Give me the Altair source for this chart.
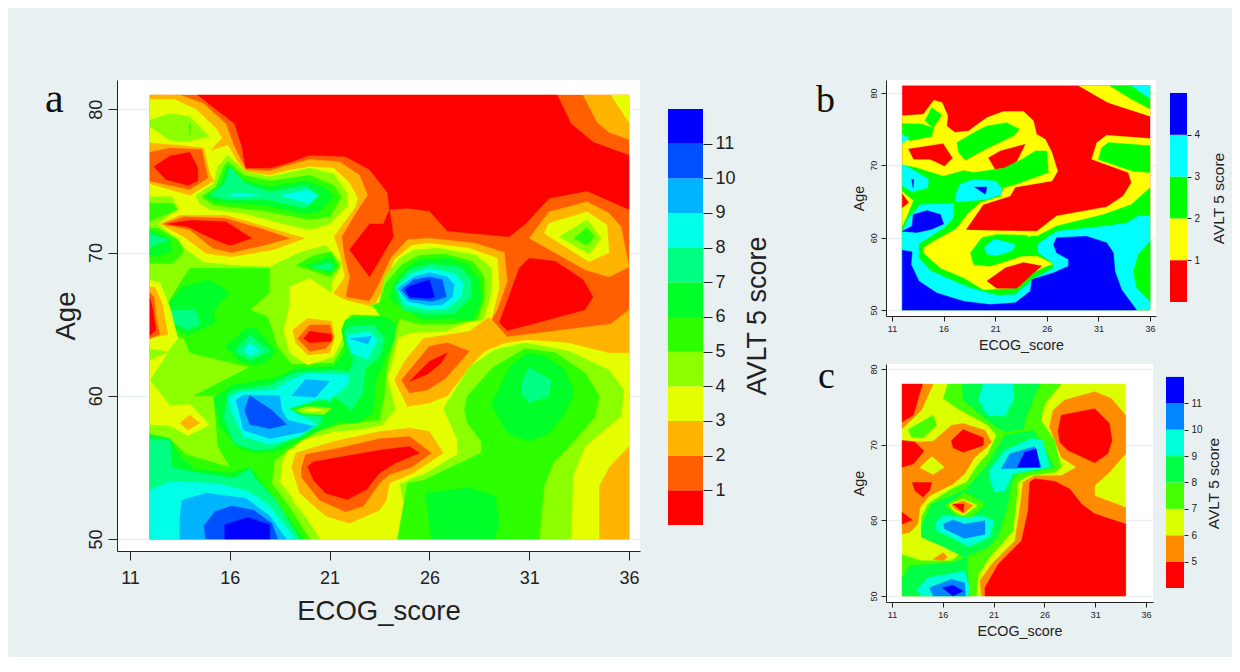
import altair as alt
import pandas as pd

BG = "#e9f0f2"
INK = "#222222"
A_COLORS = ["#ff0000","#ff5f00","#ffb400","#e6ff00","#8cff00","#2dff00","#00ff28","#00ff82","#00ffe6","#00b4ff","#0050ff","#0000ff"]
B_COLORS = ["#ff0000","#ffff00","#00ff00","#00ffff","#0000ff"]
C_COLORS = ["#ff0000","#ff8c00","#dcff00","#46ff00","#00ff46","#00ffd8","#0087ff","#0000ff"]
X_TICKS = [11,16,21,26,31,36]
Y_TICKS = [50,60,70,80]

# contour regions, painted in order: (band number, [(ECOG_score, Age), ...])
A_POLYS = [
(2,[(12,50),(36,50),(36,81),(12,81)]),
(1,[(14.4,81),(15.3,80),(16.25,79),(16.6,77.4),(16.8,75.9),(18,75.9),(18.8,76.2),(20,76.8),(21.8,76.7),(23,75.8),(23.9,74.2),(24,73),(24.9,73.1),(26,72.9),(26.9,71.5),(30,71.1),(30.8,72),(32,73.8),(33.9,74.3),(36,73),(36,76.8),(34.2,77.7),(33.1,79),(32.4,81)]),
(3,[(33.7,81),(34.4,79.1),(35,78.4),(36,77.9),(36,81)]),
(4,[(35.1,81),(36,79.1),(36,81)]),
(1,[(24,73),(24.2,71.1),(23,68.3),(22,70.2),(23,72),(23.7,72)]),
(3,[(12,81),(13.5,81),(14.7,80.4),(15.8,79),(16.2,77.5),(16.8,75.8),(18,75.7),(18.8,76.05),(20,76.5),(21.5,76.35),(22.5,75.4),(22.9,74),(22.3,72.75),(21.6,71.1),(21.75,69.7),(22,68.3),(21.8,66.9),(23,66.6),(23.4,67.6),(24.1,69.7),(24.9,70.9),(26,71),(28.3,70.65),(29.75,70),(29.9,68),(29.4,66),(29,65.05),(29.9,64.1),(35.1,65),(36,66),(36,50),(12,50)]),
(3,[(31,71),(32,72.85),(33.9,73.55),(35,72.75),(35.6,71.8),(36,69),(35,68.3),(33.8,68.8)]),
(4,[(31.75,71.35),(32,72.05),(33.9,72.85),(34.9,71.9),(35,70),(34,69.35)]),
(5,[(32.5,71.1),(33.9,72.3),(34.6,71),(34,69.9)]),
(6,[(33.25,71),(33.9,71.75),(34.25,71.1),(33.9,70.5)]),
(1,[(31,69.6),(32.3,69.4),(33.7,68.1),(34.2,66.9),(33.8,66),(29.9,64.55),(29.5,65.1),(30.5,68.9)]),
(4,[(12,80.7),(13.2,80.7),(14.3,80),(15.3,78.7),(15.6,78),(15,77.1),(15.9,77.5),(16.4,76.3),(16.8,75.65),(18,75.4),(19,75.75),(20,76),(21.2,75.9),(22,74.85),(22.4,73.8),(22.3,73.2),(21.2,71.1),(21.5,69.95),(21.75,68.3),(21.1,67),(22,66.6),(23.2,66.2),(23.7,67.4),(24.25,69.5),(25.1,70.5),(26,70.65),(28,70.3),(29.4,69.6),(29.5,67.6),(29.1,65.3),(29.9,64),(35,63.5),(36,63.5),(36,56.5),(35,55),(34.5,53.7),(34.5,50),(12,50)]),
(3,[(29,65.5),(28,64.5),(25.7,64),(24.8,62.5),(24.25,61.1),(24.9,59.25),(26,59.5),(26.9,60),(28,62),(28.75,63.1),(29.8,63.7),(31.3,64),(33,63.7),(35,63),(36,63),(36,66),(35.1,65),(29.9,64.1)]),
(2,[(24.6,61.1),(26,63.45),(26.9,63.7),(28,63.1),(26.8,61.2),(25.9,60.4),(25,60.2)]),
(1,[(25,61),(26,62.4),(26.9,63),(26.6,62.3),(25.9,61.5)]),
(5,[(12,73.9),(13.1,73.9),(13.4,73.1),(12.4,72),(13.4,70.9),(13.7,70.3),(14.7,69.3),(16.2,69.1),(18,69),(19.5,70),(20.8,70.5),(21.6,69.25),(21.1,67.85),(21.1,67),(22,66),(23.5,66.5),(23.75,68.3),(24.5,69.6),(25.25,70.2),(26.5,70.3),(28.3,69.85),(29.1,68.9),(29.1,67.2),(28.7,65.3),(27.8,65.1),(26.8,64.5),(25,64.4),(24.4,64),(24.25,63),(23.9,61.3),(24.3,59),(23.5,57.75),(21.2,57.5),(19.5,56.9),(18.6,55),(18.5,54),(19.5,52.2),(20.5,50),(12,50)]),
(5,[(26.7,59.1),(28,62),(29.25,63.2),(30.8,63.7),(33,63.1),(35,61.8),(35.75,60.4),(35.6,58.55),(33.8,56.5),(33.2,54.4),(33.1,50),(24.4,50),(24.8,52),(24.5,54),(25.7,54.5),(27.4,55.9),(27.4,56.95)]),
(6,[(28.6,56),(28.6,56.8),(27.9,58.1),(27.75,59),(27.9,60),(29.2,62),(30.8,63.3),(32.3,63),(33.8,61.6),(34.5,60),(34.3,58.55),(33.3,56.9),(32.2,55.3),(31.75,53.7),(31.5,50),(24.4,50),(24.9,53.9),(25.7,54.1)]),
(7,[(29.1,59.4),(29.9,57.4),(31,56.8),(32,57.4),(32.8,58.8),(33.25,60.2),(32.8,61.8),(31.8,62.75),(30.9,63),(30,62)]),
(8,[(30.65,61.1),(31,62),(32.1,61.1),(32,60),(31,59.5),(30.6,60.2)]),
(7,[(25.8,53.2),(27.9,53.6),(29.3,53),(29.5,51.1),(29.25,50),(26.1,50)]),
(6,[(13.7,68.3),(14,68.9),(18,68.9),(18,67.2),(17,66),(17.9,65.5),(18.4,63.4),(19.1,62.2),(21.2,62.3),(21.8,63.7),(21.7,65),(22.25,65.8),(23.5,66.5),(23.8,67.85),(24.65,69.2),(25.5,69.8),(26.8,69.9),(28.2,69.35),(28.75,68.3),(28.75,66.7),(28.4,65.3),(27,65),(25.5,65),(24.5,65.4),(24.2,63.9),(23.85,61.8),(23.75,60),(23.5,58.3),(21.5,58),(20.3,57.5),(19.3,56.6),(18.25,55.5),(18.1,53.9),(19,52.2),(20,50),(12,50),(12,57.3),(13,57),(13.8,55.9),(16,55),(15.4,56.5),(15.2,60),(14.2,60),(17,62),(14,63),(13.7,64),(12.9,64.3),(12.7,65),(12.7,66)]),
(4,[(19,67.6),(20,68.2),(21.1,67.2),(22,66.5),(23.2,66.2),(23.5,65.6),(22,65.7),(21.7,65.1),(21.7,64.15),(21.2,62.75),(19.9,62.15),(19,63),(18.7,64.6),(18.9,65.65),(19,66.5)]),
(3,[(19.15,64.6),(19.9,65.4),(21.1,65.2),(21.25,64.1),(21,63),(19.9,62.85),(19.3,63.7)]),
(2,[(19.4,64),(20,64.95),(21,64.95),(21.2,64),(20.8,63.3),(20,63.1)]),
(1,[(19.7,64),(20,64.5),(21.1,64.3),(21.1,63.8),(20,63.7)]),
(4,[(18.6,55.2),(18.9,56.2),(21.2,57.2),(23.5,57.9),(25,58.1),(26.3,57.8),(27,56),(25.4,54.4),(24.1,53.6),(24.2,52.2),(23.8,51.3),(22,50.4),(20.5,50.4),(19.2,52.6)]),
(3,[(19.1,55),(19.3,56),(21.2,56.8),(23.5,57.5),(25,57.75),(26,57.5),(26.7,56),(25.2,54.6),(24,53.9),(23.85,52.75),(23.5,52),(22,51.1),(20.8,51.6),(19.5,53.2)]),
(2,[(19.6,55),(19.8,55.9),(21.5,56.35),(23.5,57),(25,57.15),(26.1,56),(25.1,55),(24,54.5),(23.5,53.9),(22.7,52.3),(21.8,51.9),(20.5,52.7),(19.6,54.3)]),
(1,[(19.9,55.05),(20.2,55.4),(23.5,56.2),(25,56.45),(25.5,56),(24.3,55.3),(23.5,54.6),(22.85,53.45),(21.9,52.75),(20.8,53.2),(20.2,54.1)]),
(7,[(12.7,66),(13.6,67.6),(15,68.1),(16,67.2),(15.2,66),(15.25,65.1),(13.9,64.25),(12.75,65)]),
(8,[(12.9,65.3),(13.1,66),(14.3,66),(14.5,65),(13.9,64.6)]),
(7,[(15.8,63.4),(16.8,64.7),(17.3,64.7),(18.3,63.1),(17.8,62.3),(17.2,62.15),(16.5,62.4)]),
(8,[(16.25,63.1),(17,64.25),(18,63.1),(17,62.5)]),
(9,[(16.7,63.2),(17,63.7),(17.5,63.1),(17,62.75)]),
(7,[(15.2,59.8),(16.1,60.75),(18.2,61.2),(19.3,61.9),(21.2,62.05),(21.8,63.1),(21.6,64.6),(21.8,65.3),(22.5,65.5),(23.8,65.5),(24.3,65.05),(24.25,63.9),(23.8,62.75),(23.3,60.9),(23.2,58.8),(22.3,58.1),(21.5,58.2),(20.5,57.6),(18.3,56.1),(17.3,56),(16.4,56.35),(15.5,57.9)]),
(8,[(15.9,60),(16.1,60.4),(18,60.75),(19.2,61.6),(21.2,61.8),(22,61.7),(22.2,62.5),(21.9,63.5),(21.75,64.4),(22,64.85),(23.2,64.95),(23.75,64),(23.5,62.75),(22.8,61.9),(22.65,60.2),(22.1,59),(21.2,60),(20.7,58.55),(20.5,58),(18.2,56.35),(17.3,56.2),(16.2,56.7),(15.7,58.55)]),
(9,[(15.9,59.85),(16.5,60.3),(18.2,60.4),(19,61.1),(20,61.6),(22,61.45),(21.9,60.75),(21,59.7),(20.5,59.85),(19,59.1),(20.4,58),(19.5,57.15),(18,56.6),(16.7,57.15),(16.1,58.8)]),
(10,[(16.3,59.7),(16.7,60.05),(18.5,60),(18.6,59),(18.9,58.3),(20.2,57.85),(19.8,57.5),(18,57),(16.7,57.6)]),
(10,[(19.1,60),(19.8,61.15),(21,61),(20.3,59.9)]),
(11,[(16.75,59),(17,60),(18.1,59),(18.85,58),(18,57.7),(17,58)]),
(9,[(21.9,64.25),(23,64.5),(23.4,63.9),(22.9,62.55),(22.1,63),(21.9,63.7)]),
(10,[(22,64),(23.1,64.15),(22.9,63.6)]),
(7,[(19,59.1),(19.8,59.4),(20.8,59.7),(21.3,59),(20.8,58.55),(19.5,58.7)]),
(5,[(19.25,59),(19.8,59.25),(21.1,59.15),(20.75,58.7),(19.7,58.75)]),
(4,[(19.7,59),(20.2,59.15),(20.8,59),(20.2,58.9)]),
(7,[(24.2,67.9),(24.9,69),(25.5,69.5),(27,69.6),(27.9,69.15),(28.5,68.1),(28.6,66.7),(28.2,65.3),(27,65.4),(25.6,65.3),(24.9,66),(24,66.7)]),
(8,[(24.25,67.7),(25,68.8),(26,69.2),(27.5,69),(28.1,68.1),(28.1,66.9),(27.25,65.75),(26,65.65),(24.65,66)]),
(9,[(24.35,67.6),(25.1,68.55),(26,68.9),(27.25,68.55),(27.7,67.85),(27.6,66.9),(26.9,66.1),(26,66),(24.75,66.35)]),
(10,[(24.4,67.5),(25.2,68.3),(26,68.6),(26.9,68.3),(27.25,67.75),(27.15,66.9),(26.65,66.35),(26,66.3),(24.9,66.6)]),
(11,[(24.6,67.4),(25.2,68.1),(26,68.3),(26.65,68.1),(26.85,66.9),(26.15,66.6),(25,66.75)]),
(12,[(24.8,67.4),(25,67.65),(26,68.1),(26.25,66.9),(26,66.8),(25,66.9)]),
(7,[(12,57.3),(13,57),(13.5,55.8),(14.2,54.9),(16,54.6),(17,55),(18.3,52.7),(19.7,50),(12,50)]),
(8,[(12,57),(13,56.9),(13.1,55),(14.5,54.6),(16.2,54.25),(17,54.9),(17.3,54.15),(18.3,52.75),(19.5,50),(12,50)]),
(9,[(12,53.4),(13,54),(15.3,53.9),(17,53.3),(18,52.3),(19.3,50),(12,50)]),
(10,[(13.6,52.7),(14.8,53.2),(16.8,52.85),(18,51.6),(18.83,50),(13.5,50),(13.5,51.5)]),
(11,[(14.7,50.9),(15.25,51.9),(16.1,52.3),(17.2,52),(18.1,51.1),(18.4,50),(14.8,50)]),
(12,[(15.75,51),(16.9,51.5),(18,51),(18,50),(15.75,50)]),
(4,[(12,61.1),(13,59.3),(14,59.4),(15,58),(13.9,57.2),(13,57.9),(12,58)]),
(3,[(13.5,58.1),(14,58.65),(14.5,58.1),(13.9,57.6)]),
(4,[(12,62.5),(12.9,63),(12,61.1)]),
(4,[(12,68.1),(12.5,67.85),(13,66.2),(13.4,64),(12.9,63.1),(12,63.3)]),
(3,[(12,67.6),(12.25,67.6),(12.6,66.5),(12.9,64.3),(12,64)]),
(2,[(12,67.2),(12.2,66.9),(12.3,65.5),(12.5,64.3),(12,64)]),
(1,[(12,66.8),(12.15,66),(12.3,64.6),(12,64.2)]),
(5,[(12,79.25),(13,79.7),(14,79.5),(14.95,78.1),(13.85,77.75),(13,77.85),(12,78.8)]),
(6,[(13.97,79),(14,78.2),(14.03,79)]),
(3,[(12,77.65),(13.5,77.5),(14.7,77.3),(15,75.5),(15.2,75),(14,74),(12,74.8)]),
(2,[(12,77),(13,77.3),(14.6,77.2),(14.9,75.2),(14,74.4),(12,75)]),
(1,[(12.2,76),(13,76.75),(14,77),(14.4,75.9),(14.4,75),(13.9,74.7),(12.8,75.1)]),
(5,[(14.3,74),(15.2,74.8),(15.4,76),(15.9,76.8),(16.8,75.65),(18,75.3),(19,75.6),(20,75.9),(21.2,75.5),(21.9,74.1),(21.9,73.3),(21,72),(20,71.6),(18.7,72),(16.7,72.75),(15,73),(14.5,73.4)]),
(6,[(14.6,73.9),(15.3,74.6),(15.7,76),(15.9,76.35),(16.7,75.4),(18,75),(20,75.4),(21.2,74.7),(21.6,73.9),(21,72.5),(20,72.3),(17.8,72.9),(15.2,73.3)]),
(7,[(14.8,73.9),(15.5,74.6),(15.9,76.1),(16.75,75),(18,74.6),(19.8,75),(20.8,74.5),(21.2,73.9),(20.5,72.85),(19.8,72.7),(17.8,73.3),(15.3,73.55)]),
(8,[(15,74),(15.75,74.85),(16,76),(16.8,74.8),(18,74.25),(19.8,74.7),(20.5,74),(19.8,73.1),(17.8,73.7),(15.8,73.7)]),
(9,[(15.9,74),(16.5,74.2),(17.5,74),(16.5,73.9)]),
(9,[(18.5,74),(19.9,74.4),(20.4,74),(20,73.4),(19,73.8)]),
(3,[(12.5,72),(13.5,72.6),(15.8,72.6),(17.3,72),(19.75,71),(18.2,70.2),(16.1,69.7),(14.8,69.95),(13.7,71.1)]),
(2,[(12.65,72),(13.7,72.5),(15.75,72.4),(17.5,71.7),(19,71),(17.65,70.5),(16.1,70),(15.15,70.3),(14,71.6)]),
(1,[(12.85,72),(14,72.25),(15.8,72.15),(17.1,71),(16,70.5),(15.25,70.9),(13.9,71.8)]),
(6,[(12,73.45),(13.1,73.45),(13.4,73),(12,72.2)]),
(6,[(12,71.7),(12.4,71.7),(13.4,70.9),(13.7,70.2),(13.5,69.7),(13.1,69.25),(12,69.25)]),
(7,[(12,71.6),(13,70.9),(13.1,70.05),(12,69.7)]),
(8,[(12,71.3),(13,70.9),(12,70.4)]),
(6,[(19.3,69.1),(20.2,69.8),(21.1,70.05),(21.5,69),(21,68.3),(20,68.8)]),
(7,[(19.75,69.1),(21.1,69.7),(21.3,69),(21,68.6),(20.2,68.9)]),
(8,[(20.1,69),(21.1,69.3),(21.15,68.75),(20.5,68.85)]),
]

B_POLYS = [
(1,[(12,50),(36,50),(36,81),(12,81)]),
(2,[(29.1,81),(31.9,78.7),(36,76.8),(36,81)]),
(3,[(32.1,81),(33.9,79.4),(36,77.8),(36,81)]),
(4,[(34.2,81),(36,79.2),(36,81)]),
(2,[(12,76.85),(14.05,77.05),(15.05,79),(15.85,78.7),(16.4,76.85),(16.3,75.45),(17.1,74.55),(18.4,74.75),(20.2,76.6),(21.8,77.45),(23.75,77.45),(24.7,76.15),(25,74.3),(25.85,73.6),(26.5,71.75),(27.05,69.2),(26.5,67.85),(22.95,67),(22.45,65.75),(19.85,64.6),(18.1,61),(25.05,60.9),(26.95,63),(31.8,64.25),(33.4,65.75),(34.2,67.6),(33.9,69),(30.35,70.85),(30.85,73.15),(31.8,74.15),(36,73.7),(36,50),(12,50)]),
(1,[(12.6,72.25),(15.95,73),(16.85,71),(16.1,69.9),(14.7,70.85),(13.1,70.85)]),
(1,[(20.35,71.05),(21.5,72),(23.9,72.9),(23.1,70.6),(22.45,69.7),(21,69.45)]),
(3,[(12,75.8),(13.9,75.7),(15,75.15),(14.85,74),(12.7,73.4),(12,74.1)]),
(4,[(12,74.3),(12.7,73.8),(12,73)]),
(3,[(14.2,76.15),(14.85,78),(15.8,77),(15,75.15)]),
(3,[(17.3,73.15),(19.2,74.75),(20.2,75.45),(22.1,75.9),(23.35,75),(22.8,74.1),(20,72.2),(18.1,70.7),(17.45,71.8)]),
(3,[(31.97,73.15),(36,72.7),(36,69),(34.4,69.2),(31,70.8),(31.3,72.4)]),
(3,[(12,70.05),(13.25,69.7),(16,68.5),(17.95,69.3),(18.9,69),(21.8,69.6),(23.6,70.85),(24.9,72),(26,72),(26.15,69),(22.95,67.35),(21.8,66.9),(21.5,65.75),(19.55,64.9),(18.4,63.45),(17.15,61.15),(25.05,60.2),(26.95,61.6),(31.5,63.2),(34.2,64.6),(36,66.9),(36,50),(12,50)]),
(4,[(12,60.8),(12.6,62.75),(13.75,64.6),(16.95,64.7),(16.95,62.75),(16,61.35),(13.6,59.15),(13.6,57.2),(14.7,55.45),(16.65,54.2),(18.6,53.05),(21.15,52.05),(22.95,52.15),(24.05,53.5),(24.55,54.2),(26.65,55.8),(26.65,56.4),(25.2,57.9),(25.05,59.05),(26.95,60.9),(31.8,61.6),(33.75,62.05),(34.85,63),(36,63),(36,50),(12,50)]),
(3,[(36,59.5),(34.85,57.65),(34.4,55.35),(34.7,53.05),(36,51.2)]),
(5,[(12,58.25),(12.95,58.05),(12.85,56.3),(13.6,54),(15.35,52.35),(17.95,51.2),(20.5,50.75),(22.95,51),(24.4,52.6),(24.55,54.2),(26.65,55.15),(28.1,56.05),(28.1,57),(26.95,57.9),(26.65,59.05),(26.95,60),(29.85,60.2),(31.8,59.3),(32.45,57.9),(32.6,55.35),(33.25,52.8),(34.7,50),(12,50)]),
(5,[(12,60.9),(12.95,61.6),(13.05,63.2),(14.4,63.75),(15.7,63.2),(16,61.9),(14.85,61.15),(13.4,60.7)]),
(2,[(12,66.35),(13.05,65.15),(12.45,63),(12,61.6)]),
(1,[(12,66.05),(12.6,64.85),(12,64.15)]),
(4,[(12,70.15),(12.95,69.45),(14.55,68.05),(14.45,66.9),(12.95,66.35),(12,67.15)]),
(5,[(12.9,68.05),(13.1,68.05),(13.05,66.9)]),
(4,[(17.15,66),(17.6,67.4),(18.9,68.05),(21,67.85),(21.6,66.9),(21.6,66),(20.2,65.3),(17.15,64.9)]),
(5,[(19,67),(20.2,67),(20.05,66)]),
(2,[(17.15,61.15),(25.05,60.6),(24.05,60),(25.05,57.45),(26.65,56.4),(25.7,55.9),(24.05,54.8),(22.8,53.05),(19.85,52.8),(17.95,54.45),(15.7,55.8),(14.05,57.9),(14.05,58.6),(15.05,59.5)]),
(3,[(18.6,57.9),(19.7,60),(21.15,60.45),(24.05,60.35),(25.05,58.85),(25.05,57.9),(26.65,56.4),(25.35,57.45),(23.6,57.45),(20.5,56.05),(18.9,56.3)]),
(4,[(19.95,58.6),(20.85,59.85),(22.95,59.05),(22.6,58.15),(21.15,57.55),(20.2,57.7)]),
(1,[(20.2,54),(22,55.85),(23.75,56.55),(25.5,56.1),(24.55,54.9),(23.1,53),(21.15,53)]),
]

C_POLYS = [
(3,[(12,50),(34,50),(34,78),(12,78)]),
(2,[(12,78),(15.05,78),(13.9,74.55),(12,72.1)]),
(1,[(12,78),(14,78),(13.1,73.9),(12,73)]),
(2,[(12,70.55),(13.9,70.35),(15.05,70.45),(16.85,72.55),(18,72.8),(20.15,71.9),(20.8,70.35),(20.15,69.45),(19.15,68.35),(18.15,66.15),(17,64.8),(14.7,63.25),(13.75,61.7),(13.55,59.5),(12.75,58.4),(12,58.2)]),
(2,[(19.8,50),(19.65,52),(20.8,54.2),(23.1,57.3),(23.55,61.25),(23.9,65.05),(25.05,65.9),(27.65,65.9),(29.15,67),(27.65,68.35),(26.5,72.35),(26.85,74.55),(28,75.9),(30.95,77),(32.6,76.1),(34,73.9),(34,68.8),(32.25,66.15),(30.95,64.6),(30.95,63.25),(34,61.7),(34,50)]),
(1,[(20.15,50),(20.15,51.1),(21.45,54.2),(23.75,57.3),(24.4,61.25),(24.55,65.05),(25.05,65.5),(27,65.15),(28.5,64.15),(29.65,62.15),(30.95,60.85),(34,59.5),(34,50)]),
(1,[(27.35,71.9),(27.65,73.9),(30.95,74.75),(32.4,72.8),(32.65,70.55),(32.25,68.8),(30.95,67.6),(28.3,69.25),(27.5,70.35)]),
(3,[(13.75,66.95),(14.9,68.45),(16.15,67),(15.05,66.05)]),
(1,[(13,65),(14.9,65),(14.7,63.95),(14.05,63.05),(13.25,63.95)]),
(1,[(12,70.55),(13.25,70.35),(14.15,69.15),(13.1,67.45),(12,67)]),
(1,[(12,61.05),(13,60.05),(12,59.5)]),
(1,[(16.85,70.55),(18,72),(20,70.9),(20,69.9),(18,69),(17,69.6)]),
(4,[(12.6,72),(15.05,73.9),(15.4,72.55),(14.05,70.9),(12.9,71)]),
(2,[(15.05,54.85),(16.05,55.75),(16.45,55.1),(16.05,54.65)]),
(4,[(16.05,76.1),(16.5,78),(27.65,78),(26.05,75.45),(25.65,73.2),(27,70.55),(27.65,67),(27,66.35),(24.4,65.9),(23.4,65.05),(23.25,62.6),(22.9,58.6),(20.6,55.1),(19.5,52.85),(19.3,50),(12,50),(12,55.45),(13.9,54.65),(16.85,54.65),(17.65,55.5),(16.5,56.85),(13.9,57.95),(13.9,60.4),(14.55,62.15),(16.85,64.15),(18.35,65.05),(19.5,67.45),(20.45,68.8),(21.3,71.25),(20.45,72.55),(17.5,74.75)]),
(5,[(17.9,78),(25.55,78),(24.05,73.2),(24,72.1),(22.1,71.65),(20.8,72.8),(18,75.9)]),
(5,[(22.1,71.25),(24.9,71.9),(26.05,69.45),(27,67),(23.25,66.15),(22.75,64.8),(22.35,61.7),(21.45,57.95),(20.45,56.4),(18.15,55.1),(15.85,56.65),(13.9,57.75),(13.9,59.3),(14.9,62.15),(16.85,63.25),(18.35,64.15),(20.45,67.45)]),
(5,[(12,52.4),(12.75,54),(16.85,54.4),(18.35,55.1),(18.65,50),(12,50)]),
(6,[(19.95,78),(22.9,78),(23,76.1),(22.1,73.75),(20.45,73.9),(19.5,75.9)]),
(6,[(20.6,66.6),(22.1,69.25),(24.7,70.8),(25.85,70.55),(26.5,67),(22.9,66.15),(22.1,63.95),(21.1,63.7),(20.6,65.7)]),
(6,[(15.3,59.7),(16.05,60.6),(17.85,60.4),(19.8,60.6),(21.05,59.95),(20.6,57.75),(18.5,56.5),(16.85,57.75),(15.4,58.6)]),
(6,[(13.4,50.9),(14.55,52.4),(18.15,53.3),(18.65,51.1),(18.5,50),(13.9,50)]),
(7,[(21.75,66.8),(22.6,68.8),(25.05,69.75),(25.7,67)]),
(7,[(16.05,59.5),(17,60.05),(18.15,59.5),(20.15,59.95),(20.15,58.15),(18.15,57.6),(16.2,58.85)]),
(7,[(14.7,51.1),(16.85,52.2),(18.15,51.75),(18.25,50),(15.05,50)]),
(8,[(23.35,67),(24.05,69),(25.2,69.45),(25.55,67)]),
(8,[(15.95,51.1),(17,51.4),(18,50.65),(17,50)]),
(4,[(16.2,61.95),(18.15,63.7),(20.2,62.15),(18.8,60.4),(17.35,60.6)]),
(3,[(16.6,62.15),(18,62.8),(19.4,61.95),(18,60.6),(17,61.3)]),
(2,[(16.85,62.05),(18,62.6),(19,61.95),(18,60.9),(17.2,61.5)]),
(1,[(17,62.15),(18.1,62.15),(18,61.05)]),
]


def panel(polys, colors, xdom, ydom, w, h, ticks, title_size, lab_size, xlp, xtp, ytp, letter, letter_x, letter_y, letter_size):
    layers = []
    xa = alt.Axis(values=X_TICKS, title="ECOG_score", grid=False, labelFlush=False, tickSize=ticks, labelFontSize=lab_size, labelPadding=xlp,
                  titleFontSize=title_size, titleFontWeight="normal", titleFont="Liberation Sans", labelFont="Liberation Sans",
                  domainColor=INK, tickColor=INK, labelColor=INK, titleColor=INK, titlePadding=xtp)
    ya = alt.Axis(values=Y_TICKS, title="Age", grid=True, gridColor=BG, gridWidth=1.5, tickSize=ticks, labelAngle=270, labelAlign="center", labelBaseline="bottom",
                  labelFontSize=lab_size, titleFontSize=title_size, titleFontWeight="normal", titleFont="Liberation Sans", labelFont="Liberation Sans",
                  domainColor=INK, tickColor=INK, labelColor=INK, titleColor=INK, titlePadding=ytp, labelPadding=3)
    for level, pts in polys:
        df = pd.DataFrame({"x": [p[0] for p in pts], "y": [p[1] for p in pts], "i": list(range(len(pts)))})
        layers.append(alt.Chart(df).mark_line(fill=colors[level - 1], stroke=colors[level - 1], strokeWidth=0.4, interpolate="linear-closed", clip=True).encode(
            x=alt.X("x:Q", scale=alt.Scale(domain=xdom, nice=False, zero=False), axis=xa),
            y=alt.Y("y:Q", scale=alt.Scale(domain=ydom, nice=False, zero=False), axis=ya),
            order=alt.Order("i:Q"),
        ))
    lab = alt.Chart(pd.DataFrame({"t": [letter]})).mark_text(font="Liberation Serif", fontSize=letter_size, color="#111111", align="left", baseline="alphabetic").encode(
        text="t:N", x=alt.value(letter_x), y=alt.value(letter_y))
    layers.append(lab)
    return alt.layer(*layers).properties(width=w, height=h, view=alt.ViewBackground(fill="white", stroke=None))


def colorbar(colors, lo, ydom, tick_vals, w, h, tick, lab_size, title_size, pad):
    df = pd.DataFrame({"a": [lo + i for i in range(len(colors))], "b": [lo + i + 1 for i in range(len(colors))], "c": colors})
    return alt.Chart(df).mark_rect().encode(
        x=alt.value(0), x2=alt.value(w),
        y=alt.Y("a:Q", scale=alt.Scale(domain=ydom, nice=False, zero=False), axis=alt.Axis(
            orient="right", values=tick_vals, title="AVLT 5 score", grid=False, domain=False, tickSize=tick, tickColor=INK, labelColor=INK, titleColor=INK,
            labelFontSize=lab_size, titleFontSize=title_size, titleFontWeight="normal", titleFont="Liberation Sans", labelFont="Liberation Sans",
            titleAngle=270, titleBaseline="top", titlePadding=pad, labelPadding=3)),
        y2="b:Q",
        color=alt.Color("c:N", scale=None),
    ).properties(width=w, height=h, view=alt.ViewBackground(fill=None, stroke=None))


a = panel(A_POLYS, A_COLORS, [10.35, 36.55], [49.16, 82.05], 523, 471, 9, 27.5, 18, 9, 10, 7, "a", -72, 32, 42)
b = panel(B_POLYS, B_COLORS, [10.42, 36.58], [49.17, 81.8], 270, 236, 5, 14.3, 9, 3, 5, 3, "b", -70, 32, 38)
c = panel(C_POLYS, C_COLORS, [10.41, 36.69], [49.2, 80.66], 267, 238, 5, 14.3, 9, 3, 5, 3, "c", -68, 24, 38)
la = colorbar(A_COLORS, 0, [-0.75, 12.836], list(range(1, 12)), 35, 471, 9, 18, 27, 9)
lb = colorbar(B_COLORS, 0, [-0.335, 5.31], [1, 2, 3, 4], 17, 236, 4, 10, 15.5, 12)
lc = colorbar(C_COLORS, 4, [3.47, 12.49], list(range(5, 12)), 18, 238, 4, 10, 15.5, 4)

right = alt.vconcat(
    alt.hconcat(b, lb, spacing=14),
    alt.hconcat(c, lc, spacing=13),
    spacing=5,
)
left = alt.hconcat(a, la, spacing=28)
chart = alt.hconcat(left, right, spacing=45).properties(
    background=BG,
    padding={"left": 37, "top": 70, "right": 4, "bottom": 18},
).configure_view(stroke=None)

chart.save("out.html", embed_options={"renderer": "svg", "actions": False})
